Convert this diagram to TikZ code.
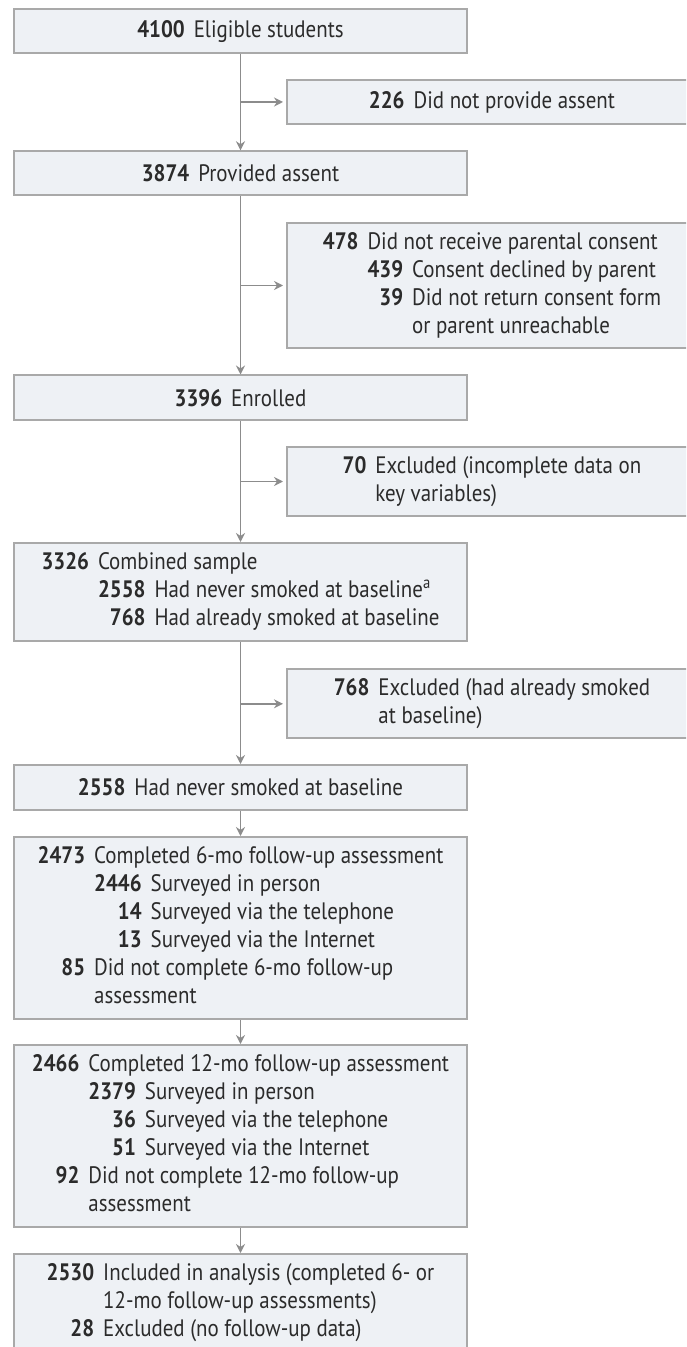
\documentclass[tikz,border=0pt]{standalone}
\usepackage{fontspec}
\setmainfont{PT Sans}[FakeStretch=0.88]
\usepackage{tikz}
\usepackage{xcolor}
\usetikzlibrary{positioning}
\usetikzlibrary{arrows.meta}
\definecolor{boxfill}{HTML}{EEF1F5}
\definecolor{boxline}{HTML}{A9A9A9}
\definecolor{flowline}{HTML}{8C8C8C}
\definecolor{inktext}{HTML}{2B2B2B}
\tikzset{
box/.style={draw=boxline, line width=1pt, fill=boxfill, inner sep=0pt,
            text=inktext, font=\fontsize{11.9}{14}\selectfont},
leftbox/.style={box, minimum width=226.5pt},
rightbox/.style={box, minimum width=205pt},
flow/.style={draw=flowline, line width=0.9pt, -{Stealth[length=4.5pt,width=4.5pt]}}
}
\newcommand{\cnt}[1]{\textbf{#1}}
\newcommand{\gap}{\hspace{4.5pt}}
\newcommand{\wide}[1]{\multicolumn{2}{@{}l@{}}{#1}}

\begin{document}
\begin{tikzpicture}[x=0.5pt,y=-0.5pt]
\useasboundingbox (0,0) rectangle (686,1347);
\clip (0,0) rectangle (686,1347);

% Boxes, main column
\node[leftbox, minimum height=22pt] (eligible) at (240.5,31.3) {\cnt{4100}\gap Eligible students};
\node[leftbox, minimum height=22pt] (assent) at (240.5,173.3) {\cnt{3874}\gap Provided assent};
\node[leftbox, minimum height=22.5pt] (enrolled) at (240.5,398) {\cnt{3396}\gap Enrolled};
\node[leftbox, minimum height=49pt] (combined) at (240.5,592) {%
\begin{tabular}{@{}r@{\gap}r@{\gap}l@{}}
\cnt{3326} & \wide{Combined sample}\\
 & \cnt{2558} & Had never smoked at baseline\textsuperscript{a}\\
 & \cnt{768} & Had already smoked at baseline
\end{tabular}};
\node[leftbox, minimum height=22.4pt] (never) at (240.5,787.4) {\cnt{2558}\gap Had never smoked at baseline};
\node[leftbox, minimum height=91pt] (six_mo) at (240.5,928) {%
\begin{tabular}{@{}r@{\gap}r@{\gap}l@{}}
\cnt{2473} & \wide{Completed 6-mo follow-up assessment}\\
 & \cnt{2446} & Surveyed in person\\
 & \cnt{14} & Surveyed via the telephone\\
 & \cnt{13} & Surveyed via the Internet\\
\cnt{85} & \wide{Did not complete 6-mo follow-up}\\
 & \wide{assessment}
\end{tabular}};
\node[leftbox, minimum height=91pt] (twelve_mo) at (240.5,1136) {%
\begin{tabular}{@{}r@{\gap}r@{\gap}l@{}}
\cnt{2466} & \wide{Completed 12-mo follow-up assessment}\\
 & \cnt{2379} & Surveyed in person\\
 & \cnt{36} & Surveyed via the telephone\\
 & \cnt{51} & Surveyed via the Internet\\
\cnt{92} & \wide{Did not complete 12-mo follow-up}\\
 & \wide{assessment}
\end{tabular}};
\node[leftbox, minimum height=49pt] (analysis) at (240.5,1303) {%
\begin{tabular}{@{}r@{\gap}l@{}}
\cnt{2530} & Included in analysis (completed 6- or\\
 & 12-mo follow-up assessments)\\
\cnt{28} & Excluded (no follow-up data)
\end{tabular}};

% Boxes, exclusions
\node[rightbox, minimum height=22pt] (no_assent) at (492,102) {\cnt{226}\gap Did not provide assent};
\node[rightbox, minimum height=62.8pt] (no_consent) at (492,285.5) {%
\begin{tabular}{@{}r@{\gap}r@{\gap}l@{}}
\cnt{478} & \wide{Did not receive parental consent}\\
 & \cnt{439} & Consent declined by parent\\
 & \cnt{39} & Did not return consent form\\
 & & or parent unreachable
\end{tabular}};
\node[rightbox, minimum height=34.2pt] (incomplete) at (492,481.5) {%
\begin{tabular}{@{}r@{\gap}l@{}}
\cnt{70} & Excluded (incomplete data on\\
 & key variables)
\end{tabular}};
\node[rightbox, minimum height=34.5pt] (smoked) at (492,703.8) {%
\begin{tabular}{@{}r@{\gap}l@{}}
\cnt{768} & Excluded (had already smoked\\
 & at baseline)
\end{tabular}};

% Arrows
\draw[flow] (eligible.south) -- (assent.north);
\draw[flow] (assent.south) -- (enrolled.north);
\draw[flow] (enrolled.south) -- (combined.north);
\draw[flow] (combined.south) -- (never.north);
\draw[flow] (never.south) -- (six_mo.north);
\draw[flow] (six_mo.south) -- (twelve_mo.north);
\draw[flow] (twelve_mo.south) -- (analysis.north);

\draw[flow, shorten >=1.5pt] (eligible.south |- no_assent.west) -- (no_assent.west);
\draw[flow, shorten >=1.5pt] (assent.south |- no_consent.west) -- (no_consent.west);
\draw[flow, shorten >=1.5pt] (enrolled.south |- incomplete.west) -- (incomplete.west);
\draw[flow, shorten >=1.5pt] (combined.south |- smoked.west) -- (smoked.west);

\end{tikzpicture}
\end{document}
